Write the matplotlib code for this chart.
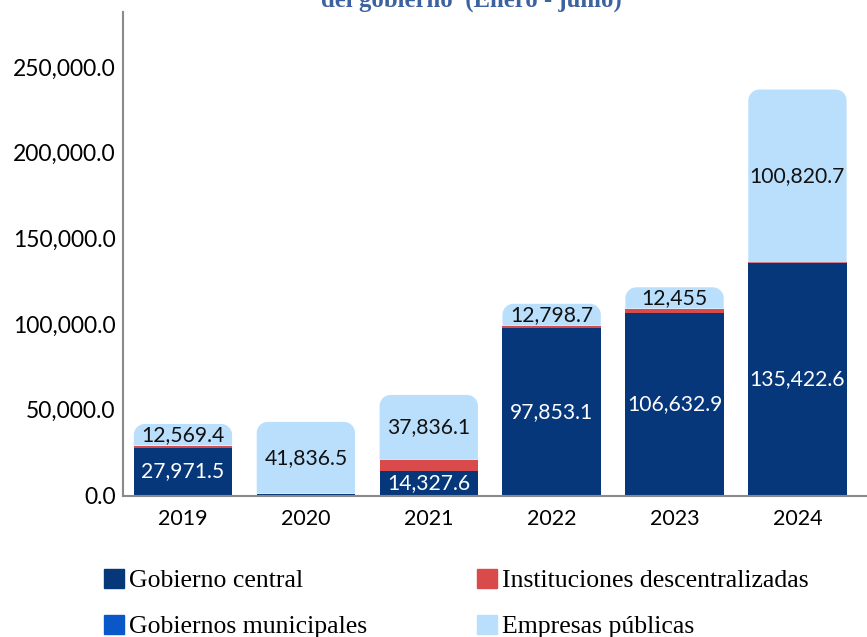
import matplotlib.pyplot as plt
import numpy as np
from matplotlib.path import Path
from matplotlib.patches import PathPatch, Patch

# data (millones)
years = ["2019", "2020", "2021", "2022", "2023", "2024"]
gob_central = [27971.5, 1100, 14327.6, 97853.1, 106632.9, 135422.6]
inst_descentral = [1200, 0, 6500, 1200, 2400, 600]
gob_municipales = [0, 0, 0, 0, 0, 0]
empresas_pub = [12569.4, 41836.5, 37836.1, 12798.7, 12455, 100820.7]

central_labels = ["27,971.5", "", "14,327.6", "97,853.1", "106,632.9", "135,422.6"]
empresas_labels = ["12,569.4", "41,836.5", "37,836.1", "12,798.7", "12,455", "100,820.7"]

c_central = "#06377a"
c_inst = "#d94b4b"
c_muni = "#0957c9"
c_emp = "#badffc"

W, H = 867, 637
fig = plt.figure(figsize=(W / 100, H / 100), dpi=100)
ax = fig.add_axes([122.5 / W, (H - 495.5) / H, (W - 122.5) / W, (495.5 - 12.5) / H])

x = np.arange(len(years))
width = 0.8
b1 = ax.bar(x, gob_central, width, color=c_central, zorder=2)
bottom = np.array(gob_central)
b2 = ax.bar(x, inst_descentral, width, bottom=bottom, color=c_inst, zorder=2)
bottom = bottom + np.array(inst_descentral)
b3 = ax.bar(x, gob_municipales, width, bottom=bottom, color=c_muni, zorder=2)
bottom = bottom + np.array(gob_municipales)
b4 = ax.bar(x, empresas_pub, width, bottom=bottom, color=c_emp, zorder=2)

ax.set_xlim(-0.492, 5.566)
ax.set_ylim(0, 281800)

# rounded top corners on the top segment (radius ~11 px)
p0 = ax.transData.transform((0, 0))
p1 = ax.transData.transform((1, 100000))
rx = 11 / (p1[0] - p0[0])
ry = 11 / ((p1[1] - p0[1]) / 100000)
kk = 0.5523
for rect in b4.patches:
    x0, y0 = rect.get_x(), rect.get_y()
    x1, y1 = x0 + rect.get_width(), y0 + rect.get_height()
    verts = [(x0, y0), (x0, y1 - ry),
             (x0, y1 - ry + kk * ry), (x0 + rx - kk * rx, y1), (x0 + rx, y1),
             (x1 - rx, y1),
             (x1 - rx + kk * rx, y1), (x1, y1 - ry + kk * ry), (x1, y1 - ry),
             (x1, y0), (x0, y0)]
    codes = [Path.MOVETO, Path.LINETO,
             Path.CURVE4, Path.CURVE4, Path.CURVE4,
             Path.LINETO,
             Path.CURVE4, Path.CURVE4, Path.CURVE4,
             Path.LINETO, Path.CLOSEPOLY]
    ax.add_patch(PathPatch(Path(verts, codes), facecolor=c_emp, edgecolor="none", zorder=2))
    rect.set_visible(False)

ax.bar_label(b1, labels=central_labels, label_type="center", color="white",
             fontsize=15.2, family="Lato", zorder=3)
ax.bar_label(b4, labels=empresas_labels, label_type="center", color="#111111",
             fontsize=15.2, family="Lato", zorder=3)

ax.set_xticks(x)
ax.set_xticklabels(years, fontsize=15.5, family="Lato")
ax.set_yticks([0, 50000, 100000, 150000, 200000, 250000])
ax.set_yticklabels(["0.0", "50,000.0", "100,000.0", "150,000.0", "200,000.0", "250,000.0"],
                   fontsize=16.5, family="Lato")
ax.tick_params(axis="both", length=0)
ax.tick_params(axis="x", pad=10)
ax.tick_params(axis="y", pad=5)
for s in ["top", "right"]:
    ax.spines[s].set_visible(False)
for s in ["left", "bottom"]:
    ax.spines[s].set_color("#8a8a8a")
    ax.spines[s].set_linewidth(1.5)

fig.text(471 / W, 1 - 7 / H, "del gobierno  (Enero - junio)", ha="center", va="baseline",
         fontsize=17.8, fontweight="bold", family="Liberation Serif", color="#3d62a0")

# legend, two columns
leg_kw = dict(loc="upper left", frameon=False, borderpad=0, borderaxespad=0,
              handlelength=0.76, handleheight=0.76, handletextpad=0.2, labelspacing=0.86,
              prop={"family": "Liberation Serif", "size": 18.5})
leg1 = fig.legend(handles=[Patch(color=c_central, label="Gobierno central"),
                           Patch(color=c_muni, label="Gobiernos municipales")],
                  bbox_to_anchor=(104 / W, 1 - 569 / H), **leg_kw)
leg2 = fig.legend(handles=[Patch(color=c_inst, label="Instituciones descentralizadas"),
                           Patch(color=c_emp, label="Empresas públicas")],
                  bbox_to_anchor=(477 / W, 1 - 569 / H), **leg_kw)

fig.savefig("out.png", dpi=100)
